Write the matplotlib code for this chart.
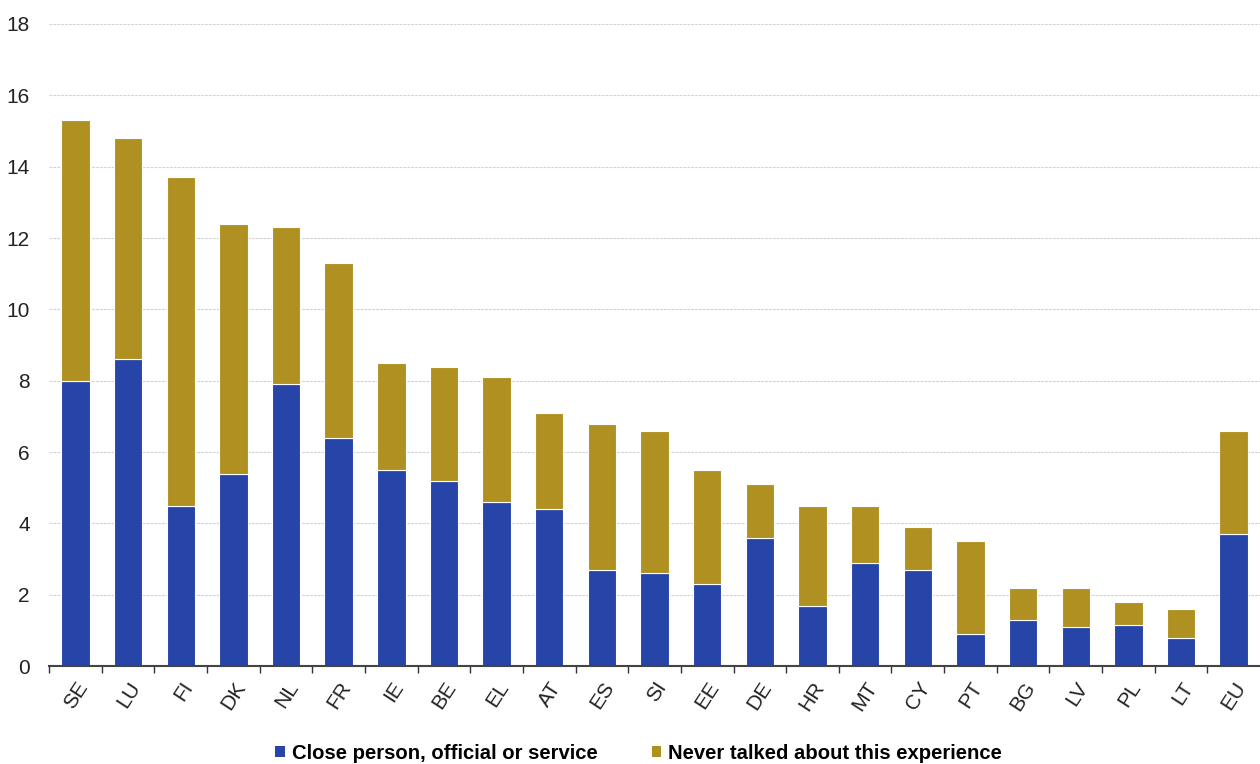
import numpy as np
import matplotlib
matplotlib.use('Agg')
import matplotlib.pyplot as plt
from matplotlib.patches import Patch

countries = ['SE', 'LU', 'FI', 'DK', 'NL', 'FR', 'IE', 'BE', 'EL', 'AT', 'ES', 'SI',
             'EE', 'DE', 'HR', 'MT', 'CY', 'PT', 'BG', 'LV', 'PL', 'LT', 'EU']
close_person = [8.0, 8.6, 4.5, 5.4, 7.9, 6.4, 5.5, 5.2, 4.6, 4.4, 2.7, 2.6,
                2.3, 3.6, 1.7, 2.9, 2.7, 0.9, 1.3, 1.1, 1.15, 0.8, 3.7]
totals = [15.3, 14.8, 13.7, 12.4, 12.3, 11.3, 8.5, 8.4, 8.1, 7.1, 6.8, 6.6,
          5.5, 5.1, 4.5, 4.5, 3.9, 3.5, 2.2, 2.2, 1.8, 1.6, 6.6]
never_talked = [round(t - c, 2) for t, c in zip(totals, close_person)]

series_labels = ['Close person, official or service', 'Never talked about this experience']
y_ticks = [0, 2, 4, 6, 8, 10, 12, 14, 16, 18]

BLUE = '#2744A8'
GOLD = '#B09021'

plt.rcParams['font.family'] = ['Liberation Sans', 'DejaVu Sans']

fig = plt.figure(figsize=(12.6, 7.64), dpi=100)
ax = fig.add_axes([0.039, 0.128, 0.961, 0.8406])

x = np.arange(len(countries))
ax.bar(x, close_person, width=0.54, color=BLUE, edgecolor='white', linewidth=0.8, zorder=3)
ax.bar(x, never_talked, width=0.54, bottom=close_person, color=GOLD,
       edgecolor='white', linewidth=0.8, zorder=3)

ax.set_xlim(-0.5, len(countries) - 0.5)
ax.set_ylim(0, 18)
ax.set_yticks(y_ticks)
ax.tick_params(axis='y', length=0, labelsize=15, colors='#222222', pad=14)
ax.yaxis.grid(True, color='#d2d2d2', linestyle=(0, (2.5, 1)), linewidth=0.8, zorder=0)

ax.set_xticks(x)
ax.set_xticklabels(countries, rotation=57, ha='right', rotation_mode='anchor', fontsize=15)
ax.tick_params(axis='x', which='major', length=0, pad=9, colors='#222222')
ax.set_xticks(np.arange(-0.5, len(countries) - 0.5, 1.0), minor=True)
ax.tick_params(axis='x', which='minor', length=5, width=1, color='#333333')

for side in ['top', 'right', 'left']:
    ax.spines[side].set_visible(False)
ax.spines['bottom'].set_color('#444444')
ax.spines['bottom'].set_linewidth(1.5)
ax.spines['bottom'].set_zorder(4)

handles = [Patch(facecolor=BLUE, edgecolor='none'), Patch(facecolor=GOLD, edgecolor='none')]
fig.legend(handles, series_labels, loc='center', bbox_to_anchor=(0.507, 0.014), ncol=2,
           frameon=False, prop={'weight': 'bold', 'size': 14.6},
           handlelength=0.45, handleheight=0.45, handletextpad=0.35, columnspacing=2.7)

fig.savefig('out.png', dpi=100)
